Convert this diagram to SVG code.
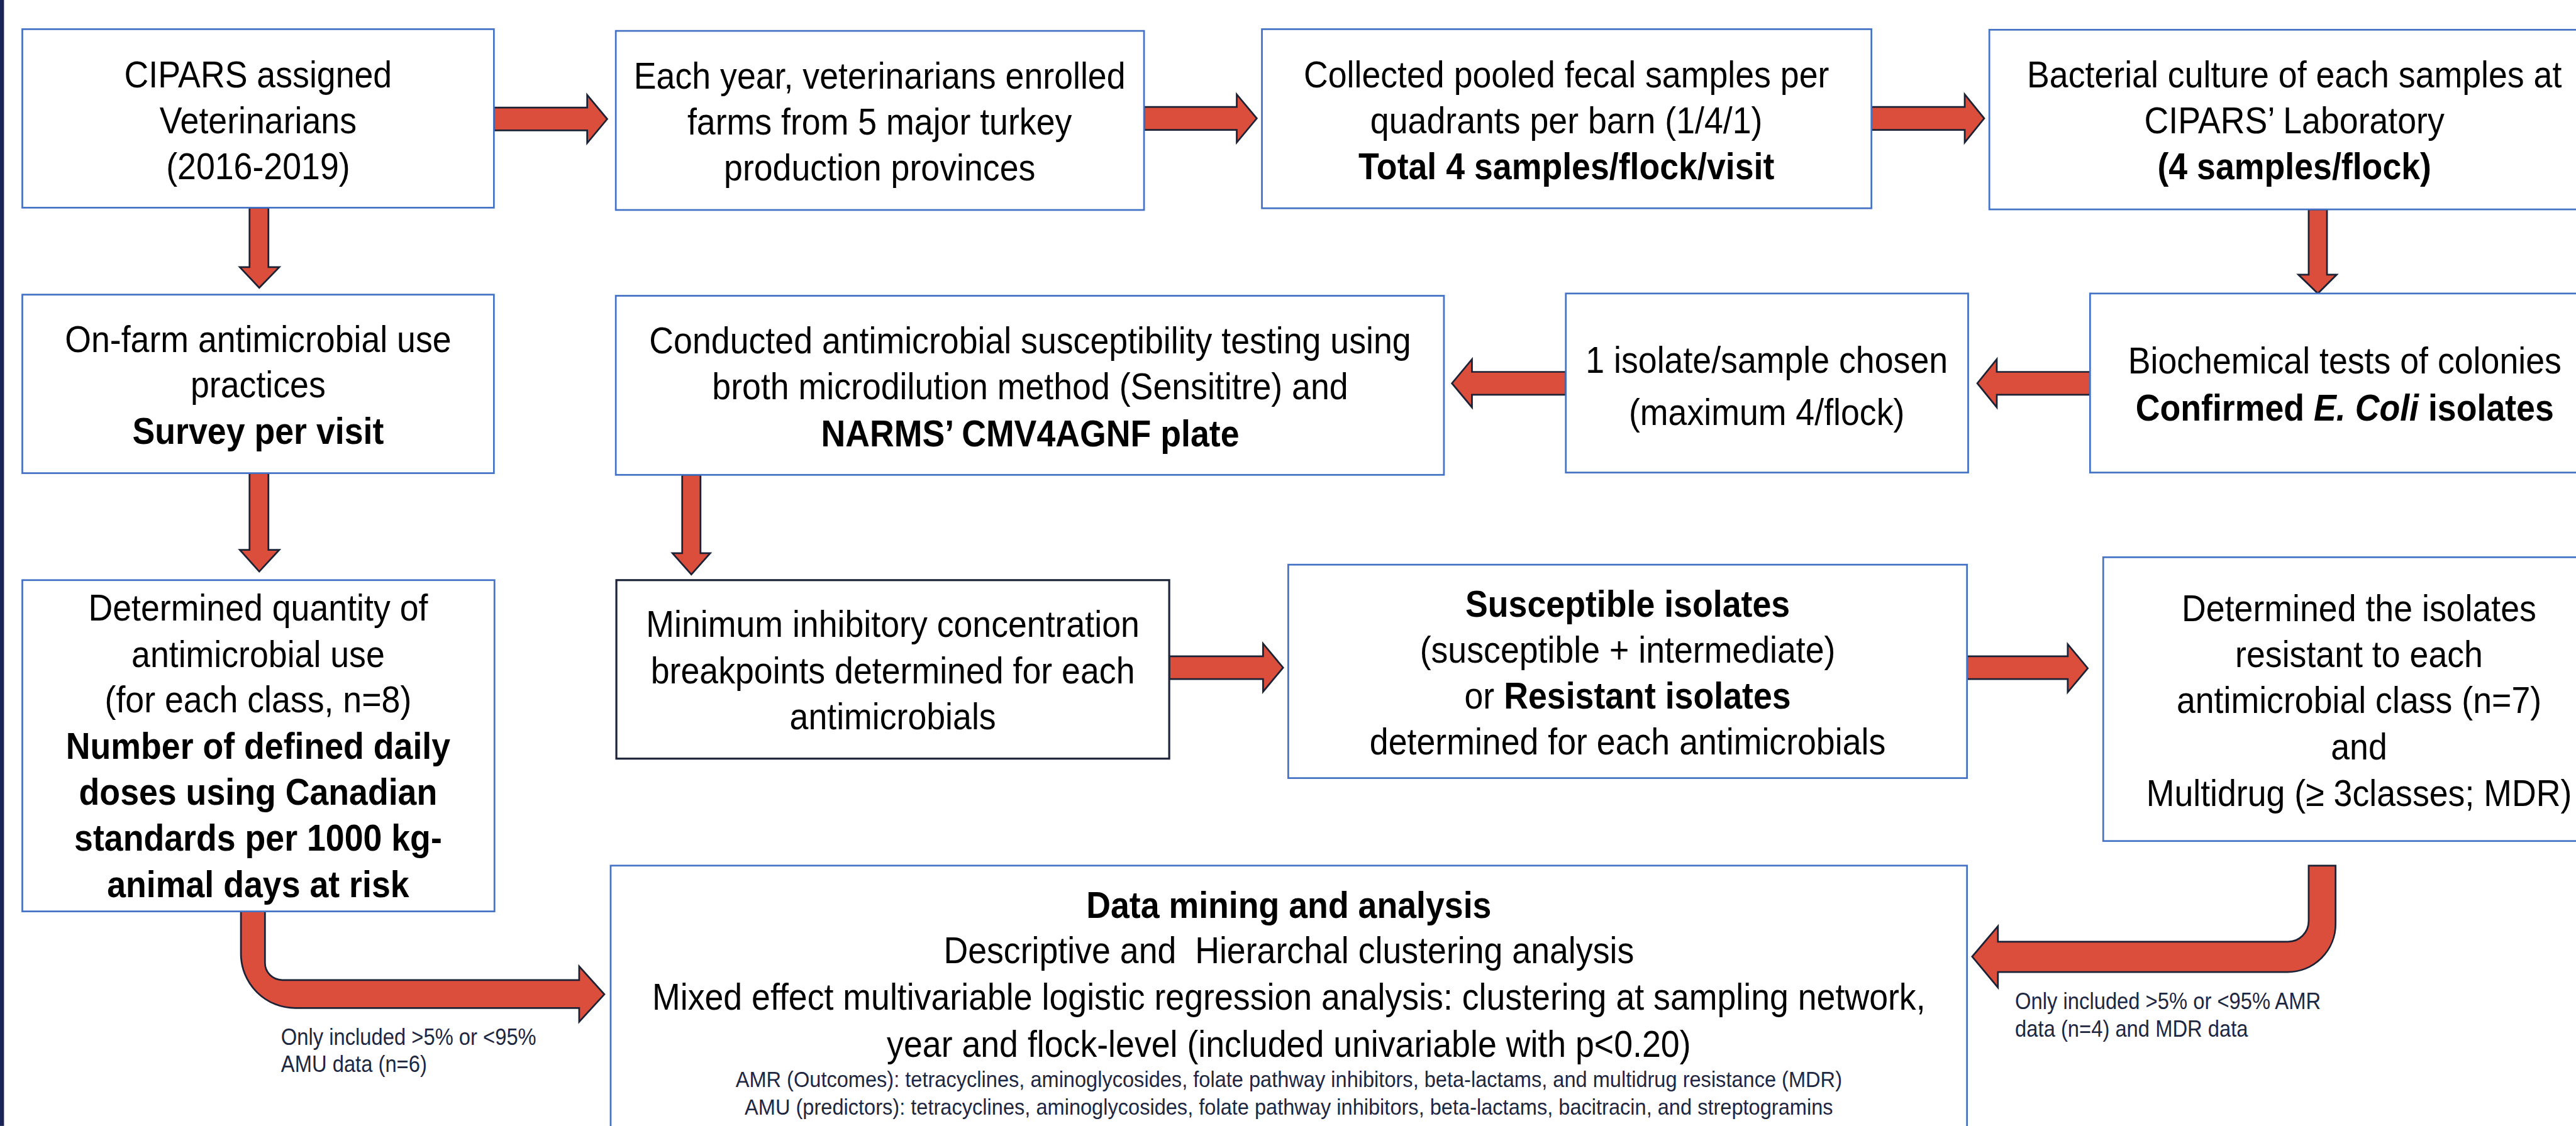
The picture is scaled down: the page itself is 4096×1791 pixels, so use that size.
<svg xmlns="http://www.w3.org/2000/svg" width="4096" height="1791" viewBox="0 0 4096 1791">
  <style>
    .box { fill: #ffffff; stroke: #4472c4; stroke-width: 3; }
    .box-dark { fill: #ffffff; stroke: #1c2539; stroke-width: 3.5; }
    .arrow { fill: #dc4e3c; stroke: #1b2235; stroke-width: 3; stroke-linejoin: miter; }
    .t { font-family: "Liberation Sans", Arial, sans-serif; font-size: 59px; fill: #000000; text-anchor: middle; }
    .b { font-weight: bold; }
    .i { font-style: italic; }
    .s { font-size: 35.8px; fill: #1e2741; }
    .note { font-family: "Liberation Sans", Arial, sans-serif; font-size: 36px; fill: #1e2741; text-anchor: start; }
  </style>
  <rect x="0" y="0" width="4096" height="1791" fill="#ffffff"/>
  <g transform="scale(0.91)">
    <!-- left edge band -->
    <rect x="0" y="0" width="7" height="1968" fill="#1b2456"/>

    <g id="connectors">
      <path id="c-vets-farms" class="arrow" d="M863,188 H1026 V166 L1061,208 L1026,250 V228 H863 Z"/>
      <path id="c-farms-collect" class="arrow" d="M1999,187 H2161 V165 L2196,207 L2161,249 V227 H1999 Z"/>
      <path id="c-collect-culture" class="arrow" d="M3270,187 H3433 V165 L3467,207 L3433,249 V227 H3270 Z"/>
      <path id="c-culture-biochem" class="arrow" d="M4034,366 V480 H4016 L4050,513 L4083,480 H4066 V366 Z"/>
      <path id="c-biochem-isolate" class="arrow" d="M3652,650 H3489 V628 L3455,670 L3489,712 V690 H3652 Z"/>
      <path id="c-isolate-ast" class="arrow" d="M2736,650 H2572 V628 L2537,670 L2572,712 V690 H2736 Z"/>
      <path id="c-vets-survey" class="arrow" d="M436,363 V467 H419 L453,503 L488,467 H469 V363 Z"/>
      <path id="c-survey-amu" class="arrow" d="M436,827 V961 H419 L453,999 L488,961 H469 V827 Z"/>
      <path id="c-ast-mic" class="arrow" d="M1192,830 V967 H1175 L1208,1004 L1241,967 H1224 V830 Z"/>
      <path id="c-mic-sir" class="arrow" d="M2043,1147 H2207 V1125 L2242,1167 L2207,1209 V1187 H2043 Z"/>
      <path id="c-sir-classes" class="arrow" d="M3437,1147 H3613 V1126 L3648,1168 L3613,1210 V1187 H3437 Z"/>
      <path id="c-amu-analysis" class="arrow" d="M421,1593 V1667 A95,95 0 0 0 516,1762 H1012 V1786 L1056,1738 L1012,1689 V1713 H493 A30,30 0 0 1 463,1683 V1593 Z"/>
      <path id="c-classes-analysis" class="arrow" d="M4081,1513 V1615 A84,84 0 0 1 3997,1699 H3491 V1726 L3446,1672 L3491,1619 V1646 H3998 A36,36 0 0 0 4034,1610 V1513 Z"/>
      <text class="note" transform="translate(491,1826) scale(1,1.1)">Only included &gt;5% or &lt;95%</text>
      <text class="note" transform="translate(491,1874) scale(1,1.1)">AMU data (n=6)</text>
      <text class="note" transform="translate(3521,1764) scale(1,1.1)">Only included &gt;5% or &lt;95% AMR</text>
      <text class="note" transform="translate(3521,1812) scale(1,1.1)">data (n=4) and MDR data</text>
    </g>

    <g id="n-vets">
      <rect class="box" x="39" y="51" width="824" height="312"/>
      <text class="t" transform="translate(451,153) scale(1,1.1)">CIPARS assigned</text>
      <text class="t" transform="translate(451,233) scale(1,1.1)">Veterinarians</text>
      <text class="t" transform="translate(451,313) scale(1,1.1)">(2016-2019)</text>
    </g>

    <g id="n-farms">
      <rect class="box" x="1076" y="54" width="923" height="313"/>
      <text class="t" transform="translate(1537,155) scale(1,1.1)">Each year, veterinarians enrolled</text>
      <text class="t" transform="translate(1537,235) scale(1,1.1)">farms from 5 major turkey</text>
      <text class="t" transform="translate(1537,315) scale(1,1.1)">production provinces</text>
    </g>

    <g id="n-collect">
      <rect class="box" x="2205" y="51" width="1065" height="313"/>
      <text class="t" transform="translate(2737,153) scale(1,1.1)">Collected pooled fecal samples per</text>
      <text class="t" transform="translate(2737,233) scale(1,1.1)">quadrants per barn (1/4/1)</text>
      <text class="t b" transform="translate(2737,313) scale(1,1.1)">Total 4 samples/flock/visit</text>
    </g>

    <g id="n-culture">
      <rect class="box" x="3476" y="52" width="1100" height="314"/>
      <text class="t" transform="translate(4009,153) scale(1,1.1)">Bacterial culture of each samples at</text>
      <text class="t" transform="translate(4009,233) scale(1,1.1)">CIPARS’ Laboratory</text>
      <text class="t b" transform="translate(4009,313) scale(1,1.1)">(4 samples/flock)</text>
    </g>

    <g id="n-survey">
      <rect class="box" x="39" y="515" width="824" height="312"/>
      <text class="t" transform="translate(451,615) scale(1,1.1)">On-farm antimicrobial use</text>
      <text class="t" transform="translate(451,695) scale(1,1.1)">practices</text>
      <text class="t b" transform="translate(451,776) scale(1,1.1)">Survey per visit</text>
    </g>

    <g id="n-ast">
      <rect class="box" x="1076" y="517" width="1447" height="313"/>
      <text class="t" transform="translate(1800,618) scale(1,1.1)">Conducted antimicrobial susceptibility testing using</text>
      <text class="t" transform="translate(1800,698) scale(1,1.1)">broth microdilution method (Sensititre) and</text>
      <text class="t b" transform="translate(1800,780) scale(1,1.1)">NARMS’ CMV4AGNF plate</text>
    </g>

    <g id="n-isolate">
      <rect class="box" x="2736" y="513" width="703" height="313"/>
      <text class="t" transform="translate(3087,652) scale(1,1.1)">1 isolate/sample chosen</text>
      <text class="t" transform="translate(3087,743) scale(1,1.1)">(maximum 4/flock)</text>
    </g>

    <g id="n-biochem">
      <rect class="box" x="3652" y="513" width="950" height="313"/>
      <text class="t" transform="translate(4097,653) scale(1,1.1)">Biochemical tests of colonies</text>
      <text class="t b" transform="translate(4097,735) scale(1,1.1)">Confirmed <tspan class="i">E. Coli</tspan> isolates</text>
    </g>

    <g id="n-amu">
      <rect class="box" x="39" y="1014" width="825" height="579"/>
      <text class="t" transform="translate(451,1085) scale(1,1.1)">Determined quantity of</text>
      <text class="t" transform="translate(451,1166) scale(1,1.1)">antimicrobial use</text>
      <text class="t" transform="translate(451,1245) scale(1,1.1)">(for each class, n=8)</text>
      <text class="t b" transform="translate(451,1326) scale(1,1.1)">Number of defined daily</text>
      <text class="t b" transform="translate(451,1407) scale(1,1.1)">doses using Canadian</text>
      <text class="t b" transform="translate(451,1487) scale(1,1.1)">standards per 1000 kg-</text>
      <text class="t b" transform="translate(451,1568) scale(1,1.1)">animal days at risk</text>
    </g>

    <g id="n-mic">
      <rect class="box-dark" x="1077" y="1014" width="966" height="312"/>
      <text class="t" transform="translate(1560,1113) scale(1,1.1)">Minimum inhibitory concentration</text>
      <text class="t" transform="translate(1560,1195) scale(1,1.1)">breakpoints determined for each</text>
      <text class="t" transform="translate(1560,1275) scale(1,1.1)">antimicrobials</text>
    </g>

    <g id="n-sir">
      <rect class="box" x="2251" y="987" width="1186" height="373"/>
      <text class="t b" transform="translate(2844,1078) scale(1,1.1)">Susceptible isolates</text>
      <text class="t" transform="translate(2844,1158) scale(1,1.1)">(susceptible + intermediate)</text>
      <text class="t" transform="translate(2844,1239) scale(1,1.1)">or <tspan class="b">Resistant isolates</tspan></text>
      <text class="t" transform="translate(2844,1319) scale(1,1.1)">determined for each antimicrobials</text>
    </g>

    <g id="n-classes">
      <rect class="box" x="3675" y="974" width="950" height="496"/>
      <text class="t" transform="translate(4122,1086) scale(1,1.1)">Determined the isolates</text>
      <text class="t" transform="translate(4122,1166) scale(1,1.1)">resistant to each</text>
      <text class="t" transform="translate(4122,1246) scale(1,1.1)">antimicrobial class (n=7)</text>
      <text class="t" transform="translate(4122,1327) scale(1,1.1)">and</text>
      <text class="t" transform="translate(4122,1409) scale(1,1.1)">Multidrug (≥ 3classes; MDR)</text>
    </g>

    <g id="n-analysis">
      <rect class="box" x="1067" y="1513" width="2370" height="520"/>
      <text class="t b" transform="translate(2252,1604) scale(1,1.1)">Data mining and analysis</text>
      <text class="t" style="white-space:pre" transform="translate(2252,1683) scale(1,1.1)">Descriptive and  Hierarchal clustering analysis</text>
      <text class="t" transform="translate(2252,1765) scale(1,1.1)">Mixed effect multivariable logistic regression analysis: clustering at sampling network,</text>
      <text class="t" transform="translate(2252,1847) scale(1,1.1)">year and flock-level (included univariable with p&lt;0.20)</text>
      <text class="t s" transform="translate(2252,1900) scale(1,1.1)">AMR (Outcomes): tetracyclines, aminoglycosides, folate pathway inhibitors, beta-lactams, and multidrug resistance (MDR)</text>
      <text class="t s" transform="translate(2252,1948) scale(1,1.1)">AMU (predictors): tetracyclines, aminoglycosides, folate pathway inhibitors, beta-lactams, bacitracin, and streptogramins</text>
    </g>
  </g>
</svg>
